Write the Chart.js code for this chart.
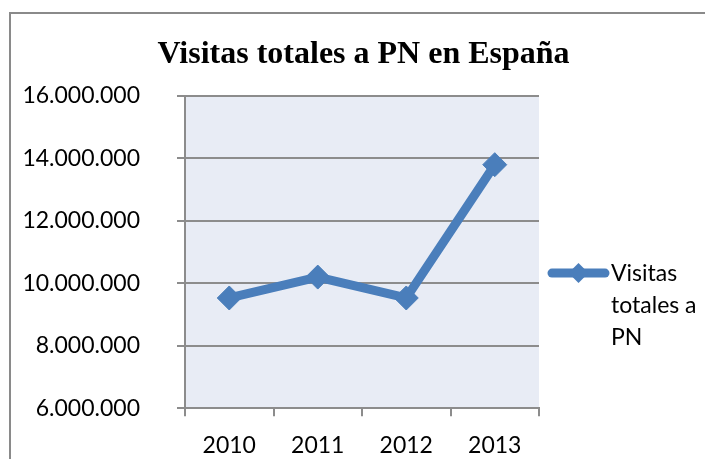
<!DOCTYPE html>
<html>
<head>
<meta charset="utf-8">
<script src="https://cdn.jsdelivr.net/npm/chart.js@4"></script>
<style>
  html, body { margin: 0; padding: 0; background: #fff; }
  #wrap { width: 705px; height: 459px; position: relative; }
</style>
</head>
<body>
<div id="wrap"><canvas id="chart"></canvas></div>
<script>
// data
const years = ["2010", "2011", "2012", "2013"];
const visitas = [9530000, 10200000, 9530000, 13800000];
const seriesLabel = "Visitas totales a PN";
const chartTitle = "Visitas totales a PN en España";
const yMin = 6000000;
const yMax = 16000000;
const yStep = 2000000;

const BLUE = "#4A7EBB";
const GRID = "#8C8C8C";
const LABEL_FONT = "Lato, Carlito, sans-serif";
const TITLE_FONT = "bold 32px 'Liberation Serif', 'Times New Roman', serif";

// dotted thousands, e.g. 16.000.000
const fmt = v => String(v).replace(/\B(?=(\d{3})+(?!\d))/g, ".");

// plot background, outer frame and title (centred on the whole frame, not the plot)
const frame = {
    id: "frame",
    beforeDraw(chart) {
        const { ctx, chartArea: a } = chart;
        ctx.save();
        ctx.fillStyle = "#E8ECF5";
        ctx.fillRect(a.left, a.top, a.right - a.left, a.bottom - a.top);
        ctx.strokeStyle = "#8A8A8A";
        ctx.lineWidth = 2;
        ctx.strokeRect(10, 13, chart.width + 20, chart.height + 20);

        ctx.font = TITLE_FONT;
        ctx.fillStyle = "#000";
        ctx.textAlign = "center";
        ctx.textBaseline = "alphabetic";
        ctx.fillText(chartTitle, chart.width / 2 + 11, 63);
        ctx.restore();
    }
};

// legend on the right, wrapped like the original
const sideLegend = {
    id: "sideLegend",
    afterDraw(chart) {
        const { ctx, chartArea: a } = chart;
        const ds = chart.data.datasets[0];
        const x0 = a.right + 9;
        const x1 = x0 + 61;
        const y0 = (a.top + a.bottom) / 2 + 21;
        ctx.save();
        ctx.strokeStyle = ds.borderColor;
        ctx.lineWidth = 9;
        ctx.lineCap = "round";
        ctx.beginPath();
        ctx.moveTo(x0 + 4, y0);
        ctx.lineTo(x1 - 4, y0);
        ctx.stroke();
        const cx = (x0 + x1) / 2, r = 10;
        ctx.fillStyle = ds.borderColor;
        ctx.beginPath();
        ctx.moveTo(cx, y0 - r);
        ctx.lineTo(cx + r, y0);
        ctx.lineTo(cx, y0 + r);
        ctx.lineTo(cx - r, y0);
        ctx.closePath();
        ctx.fill();

        ctx.font = "23px " + LABEL_FONT;
        ctx.fillStyle = "#000";
        ctx.textBaseline = "middle";
        const maxW = chart.width - x1 - 6;
        const lines = [];
        let cur = "";
        ds.label.split(" ").forEach(w => {
            const t = cur ? cur + " " + w : w;
            if (cur && ctx.measureText(t).width > maxW) {
                lines.push(cur);
                cur = w;
            } else {
                cur = t;
            }
        });
        if (cur) lines.push(cur);
        lines.forEach((l, i) => ctx.fillText(l, x1 + 2, y0 + i * 32));
        ctx.restore();
    }
};

new Chart(document.getElementById("chart"), {
    type: "line",
    data: {
        labels: years,
        datasets: [{
            label: seriesLabel,
            data: visitas,
            borderColor: BLUE,
            backgroundColor: BLUE,
            borderWidth: 9,
            tension: 0,
            pointStyle: "rectRot",
            pointRadius: 12,
            pointHoverRadius: 12,
            pointBorderWidth: 1,
            pointBackgroundColor: BLUE,
            pointBorderColor: BLUE
        }]
    },
    options: {
        responsive: true,
        maintainAspectRatio: false,
        animation: false,
        layout: { padding: { left: 0, right: 166, top: 96, bottom: 0 } },
        plugins: {
            legend: { display: false },
            tooltip: { enabled: false },
            title: { display: false }
        },
        scales: {
            x: {
                offset: true,
                afterFit(scale) { scale.height = 49; },
                grid: {
                    offset: true,
                    drawOnChartArea: false,
                    color: GRID,
                    lineWidth: 2,
                    tickLength: 8
                },
                border: { color: GRID, width: 2 },
                ticks: {
                    color: "#000",
                    padding: 16,
                    font: { family: LABEL_FONT, size: 23 }
                }
            },
            y: {
                min: yMin,
                max: yMax,
                afterFit(scale) { scale.width = 185; },
                grid: { color: GRID, lineWidth: 2, tickLength: 8 },
                border: { color: GRID, width: 2 },
                ticks: {
                    stepSize: yStep,
                    color: "#000",
                    padding: 37,
                    font: { family: LABEL_FONT, size: 23 },
                    callback: v => fmt(v)
                }
            }
        }
    },
    plugins: [frame, sideLegend]
});
</script>
</body>
</html>
